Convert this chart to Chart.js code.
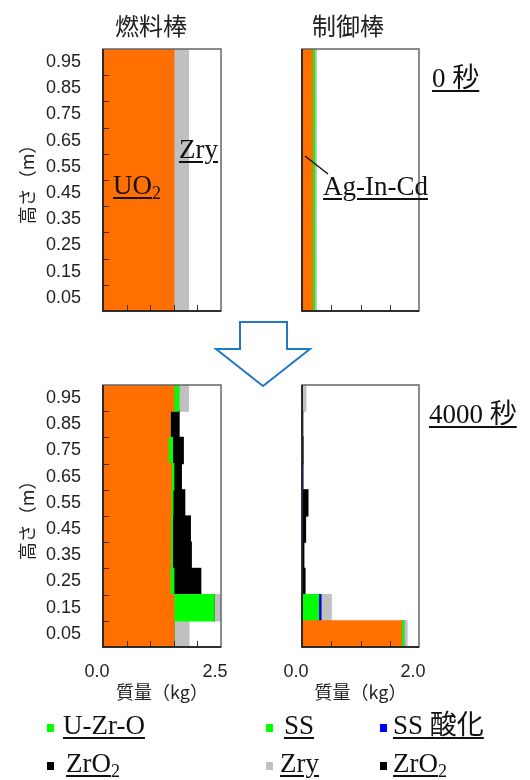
<!DOCTYPE html>
<html>
<head>
<meta charset="utf-8">
<script src="https://cdn.jsdelivr.net/npm/chart.js@4/dist/chart.umd.min.js"></script>
<style>
  html, body { margin: 0; padding: 0; background: #fff; }
  #page { position: relative; width: 530px; height: 780px; overflow: hidden; font-family: "Noto Sans CJK JP", sans-serif; }
  canvas { position: absolute; }
  .ttl { position: absolute; width: 120px; text-align: center; font-size: 24px; line-height: 1; color: #222; }
  .note { position: absolute; font-family: "Liberation Serif", "Noto Sans CJK JP", serif; font-size: 27px; line-height: 1; color: #111;
          text-decoration: underline; text-decoration-thickness: 2px; text-underline-offset: 3px; white-space: nowrap; z-index: 2; }
  .note .sub { font-size: 18px; vertical-align: -5px; }
  .sq { position: absolute; width: 7px; height: 8px; }
  svg { position: absolute; left: 0; top: 0; z-index: 1; }
</style>
</head>
<body>
<div id="page">
  <canvas id="fuel0"></canvas>
  <canvas id="ctrl0"></canvas>
  <canvas id="fuel4000"></canvas>
  <canvas id="ctrl4000"></canvas>

  <div class="ttl" style="left:91px;top:13px;">燃料棒</div>
  <div class="ttl" style="left:288px;top:13px;">制御棒</div>

  <svg width="530" height="780">
    <polygon points="240,322 287,322 287,349 310,349 263,386 216,349 240,349" fill="#fff" stroke="#1f78c8" stroke-width="2"/>
    <line x1="305" y1="156" x2="328" y2="174" stroke="#111" stroke-width="1.5"/>
  </svg>

  <div class="note" style="left:113px;top:172px;">UO<span class="sub">2</span></div>
  <div class="note" style="left:179px;top:136px;">Zry</div>
  <div class="note" style="left:323px;top:173px;">Ag-In-Cd</div>
  <div class="note" style="left:432px;top:65px;">0 秒</div>
  <div class="note" style="left:429px;top:401px;">4000 秒</div>

  <div class="sq" style="left:47px;top:724px;background:#00ff00;"></div>
  <div class="note" style="left:63px;top:712px;">U-Zr-O</div>
  <div class="sq" style="left:266px;top:724px;background:#00ff00;"></div>
  <div class="note" style="left:284px;top:712px;">SS</div>
  <div class="sq" style="left:380px;top:724px;background:#0000ff;"></div>
  <div class="note" style="left:393px;top:712px;">SS 酸化</div>

  <div class="sq" style="left:47px;top:762px;background:#000;"></div>
  <div class="note" style="left:66px;top:750px;">ZrO<span class="sub">2</span></div>
  <div class="sq" style="left:266px;top:762px;background:#c0c0c0;"></div>
  <div class="note" style="left:280px;top:750px;">Zry</div>
  <div class="sq" style="left:380px;top:762px;background:#000;"></div>
  <div class="note" style="left:393px;top:750px;">ZrO<span class="sub">2</span></div>
</div>

<script>
'use strict';
// height bins, top to bottom
const HEIGHTS = ['0.95','0.85','0.75','0.65','0.55','0.45','0.35','0.25','0.15','0.05'];
const FUEL_MAX = 2.5;
const CTRL_MAX = 2.0;

// 0 s, fuel rod (kg)
const FUEL0_UO2 = [1.50,1.50,1.50,1.50,1.50,1.50,1.50,1.50,1.50,1.50];
const FUEL0_ZRY = [0.31,0.31,0.31,0.31,0.31,0.31,0.31,0.31,0.31,0.31];

// 0 s, control rod (kg)
const CTRL0_AIC = [0.18,0.18,0.18,0.18,0.18,0.18,0.18,0.18,0.18,0.18];
const CTRL0_SS  = [0.035,0.035,0.035,0.035,0.035,0.035,0.035,0.035,0.035,0.035];
const CTRL0_ZRY = [0.03,0.03,0.03,0.03,0.03,0.03,0.03,0.03,0.03,0.03];

// 4000 s, fuel rod (kg)
const FUEL4K_UO2  = [1.50,1.42,1.38,1.45,1.44,1.43,1.43,1.42,1.50,1.50];
const FUEL4K_UZRO = [0.10,0,0.09,0.05,0.04,0.04,0.04,0.08,0.85,0];
const FUEL4K_ZRO2 = [0,0.19,0.23,0.16,0.25,0.38,0.40,0.57,0,0];
const FUEL4K_ZRY  = [0.21,0,0,0,0,0,0,0,0.18,0.32];

// 4000 s, control rod (kg)
const CTRL4K_AIC  = [0,0,0,0,0,0,0,0,0,1.70];
const CTRL4K_SS   = [0,0,0.005,0,0,0,0,0,0.28,0.035];
const CTRL4K_SSOX = [0,0,0,0.012,0.01,0.01,0,0,0.04,0];
const CTRL4K_ZRO2 = [0.005,0.012,0.012,0,0.09,0.05,0.03,0.05,0,0];
const CTRL4K_ZRY  = [0.06,0,0,0,0,0,0,0,0.18,0.06];

const C_ORANGE = '#ff7000', C_GREEN = '#00ff00', C_BLUE = '#0000ff', C_BLACK = '#000000', C_GREY = '#c0c0c0';
const TICK_FONT = { family: '"Liberation Sans", Arial, sans-serif', size: 18 };
const TITLE_FONT = { family: '"Noto Sans CJK JP", sans-serif', size: 18 };

// frame + inward tick marks
const frame = {
  id: 'frame',
  afterDatasetsDraw(chart, args, opts) {
    const { ctx, chartArea: a, scales: { x, y } } = chart;
    ctx.save();
    ctx.lineWidth = 1;
    ctx.strokeStyle = '#333';
    ctx.beginPath();
    if (opts.yTicks) {
      for (let i = 1; i < chart.data.labels.length; i++) {
        const py = Math.round((y.getPixelForValue(i - 1) + y.getPixelForValue(i)) / 2) + 0.5;
        ctx.moveTo(a.left, py); ctx.lineTo(a.left + 6, py);
      }
    }
    x.ticks.forEach(t => {
      if (t.value <= 0 || t.value >= x.max) return;
      const px = Math.round(x.getPixelForValue(t.value)) + 0.5;
      ctx.moveTo(px, a.bottom); ctx.lineTo(px, a.bottom - 6);
    });
    ctx.stroke();
    ctx.lineWidth = 1.5;
    ctx.strokeStyle = '#666';
    ctx.strokeRect(a.left, a.top, a.right - a.left, a.bottom - a.top);
    ctx.strokeStyle = '#111';
    ctx.beginPath();
    ctx.moveTo(a.left, a.top); ctx.lineTo(a.left, a.bottom); ctx.lineTo(a.right, a.bottom);
    ctx.stroke();
    ctx.restore();
  }
};

function noPad(s) { s.paddingLeft = 0; s.paddingRight = 0; s.paddingTop = 0; s.paddingBottom = 0; }

function panel(id, box, series, xMax, leftSide, bottomRow) {
  const c = document.getElementById(id);
  c.width = box.w; c.height = box.h;
  c.style.left = box.x + 'px'; c.style.top = box.y + 'px';
  new Chart(c, {
    type: 'bar',
    data: {
      labels: HEIGHTS,
      datasets: series.map(s => ({ label: s.label, data: s.data, backgroundColor: s.color, borderWidth: 0,
                                   barPercentage: 1, categoryPercentage: 1, inflateAmount: 0.6 }))
    },
    options: {
      indexAxis: 'y', responsive: false, animation: false,
      layout: { padding: { top: box.top, right: box.right, left: 0, bottom: 0 } },
      plugins: { legend: { display: false }, tooltip: { enabled: false }, frame: { yTicks: leftSide } },
      scales: {
        x: {
          stacked: true, min: 0, max: xMax,
          border: { display: false }, grid: { display: false, drawTicks: false },
          ticks: { display: bottomRow, stepSize: 0.5, autoSkip: false, maxRotation: 0, padding: 14, labelOffset: -6,
                   color: '#222', font: TICK_FONT,
                   callback: v => (v === 0 || v === xMax) ? v.toFixed(1) : '' },
          title: { display: bottomRow, text: '質量（kg）', color: '#222', font: TITLE_FONT, padding: { top: 0, bottom: 7 } },
          afterFit: s => { s.height = box.xh; noPad(s); }
        },
        y: {
          stacked: true,
          border: { display: false }, grid: { display: false, drawTicks: false },
          ticks: { display: leftSide, padding: 22, color: '#222', font: TICK_FONT },
          title: { display: leftSide, text: '高さ（m）', color: '#222', font: TITLE_FONT, padding: { top: 16, bottom: 0 } },
          afterFit: s => { s.width = box.yw; noPad(s); }
        }
      }
    },
    plugins: [frame]
  });
}

const TOP_L = { x: 0,   y: 0,   w: 232, h: 330, yw: 103, top: 49, right: 11, xh: 19 };
const TOP_R = { x: 262, y: 0,   w: 170, h: 330, yw: 40,  top: 49, right: 13, xh: 19 };
const BOT_L = { x: 0,   y: 340, w: 232, h: 370, yw: 103, top: 45, right: 11, xh: 63 };
const BOT_R = { x: 262, y: 340, w: 170, h: 370, yw: 40,  top: 45, right: 13, xh: 63 };

panel('fuel0', TOP_L, [
  { label: 'UO2', data: FUEL0_UO2, color: C_ORANGE },
  { label: 'Zry', data: FUEL0_ZRY, color: C_GREY }
], FUEL_MAX, true, false);

panel('ctrl0', TOP_R, [
  { label: 'Ag-In-Cd', data: CTRL0_AIC, color: C_ORANGE },
  { label: 'SS', data: CTRL0_SS, color: C_GREEN },
  { label: 'Zry', data: CTRL0_ZRY, color: C_GREY }
], CTRL_MAX, false, false);

panel('fuel4000', BOT_L, [
  { label: 'UO2', data: FUEL4K_UO2, color: C_ORANGE },
  { label: 'U-Zr-O', data: FUEL4K_UZRO, color: C_GREEN },
  { label: 'ZrO2', data: FUEL4K_ZRO2, color: C_BLACK },
  { label: 'Zry', data: FUEL4K_ZRY, color: C_GREY }
], FUEL_MAX, true, true);

panel('ctrl4000', BOT_R, [
  { label: 'Ag-In-Cd', data: CTRL4K_AIC, color: C_ORANGE },
  { label: 'SS', data: CTRL4K_SS, color: C_GREEN },
  { label: 'SS 酸化', data: CTRL4K_SSOX, color: C_BLUE },
  { label: 'ZrO2', data: CTRL4K_ZRO2, color: C_BLACK },
  { label: 'Zry', data: CTRL4K_ZRY, color: C_GREY }
], CTRL_MAX, false, true);
</script>
</body>
</html>
